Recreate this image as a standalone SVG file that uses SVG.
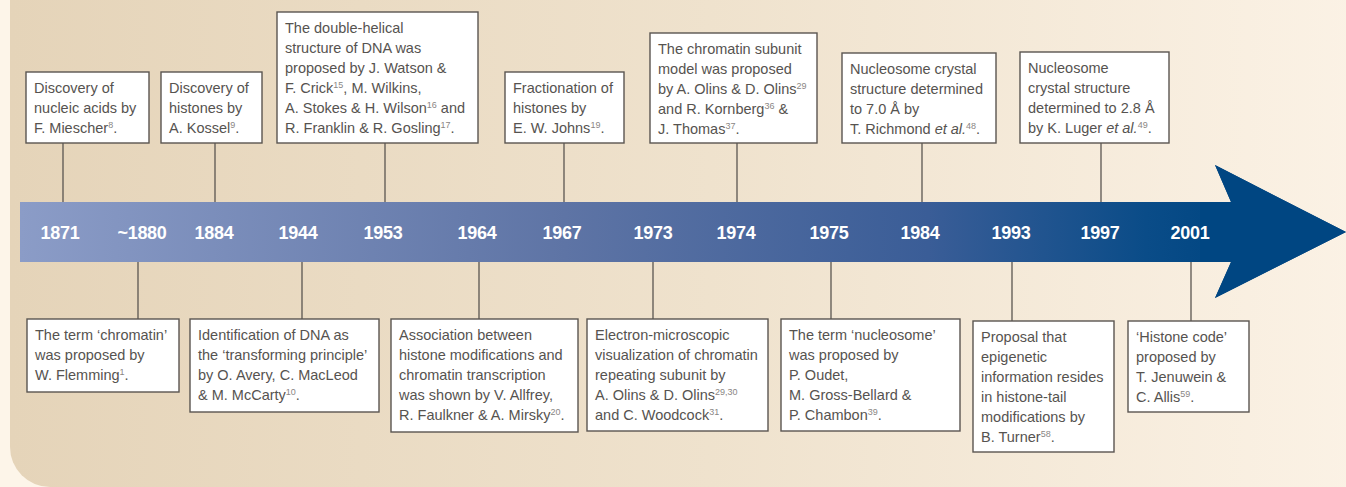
<svg xmlns="http://www.w3.org/2000/svg" width="1346" height="487" viewBox="0 0 1346 487">
<style>
.box{fill:#fff;stroke:#5a5551;stroke-width:1.4}
.t{font-family:"Liberation Sans",Arial,sans-serif;font-size:14.5px;fill:#565350}
.sup{font-size:9px;fill:#8a8684}
.yr{font-family:"Liberation Sans",Arial,sans-serif;font-size:18px;font-weight:bold;fill:#fff;text-anchor:middle;letter-spacing:-0.3px}
.ln{stroke:#5a5551;stroke-width:1.3;fill:none}
</style>
<defs>
<linearGradient id="bg" x1="0" y1="0" x2="1" y2="0">
<stop offset="0" stop-color="#e5d4b9"/>
<stop offset="0.5" stop-color="#efe2cd"/>
<stop offset="1" stop-color="#fcf3e7"/>
</linearGradient>
<linearGradient id="bar" gradientUnits="userSpaceOnUse" x1="20" y1="0" x2="1231" y2="0">
<stop offset="0" stop-color="#8b9cc7"/>
<stop offset="0.45" stop-color="#5e74a5"/>
<stop offset="0.75" stop-color="#3a5d97"/>
<stop offset="0.93" stop-color="#0a4c88"/>
<stop offset="1" stop-color="#004682"/>
</linearGradient>
</defs>
<rect x="0" y="0" width="1346" height="487" fill="#fdf5e9"/>
<rect x="10" y="-60" width="1400" height="547" rx="40" fill="url(#bg)"/>

<g id="timeline">
<path d="M20,202 H1231 L1215,165 L1346,232 L1215,298 L1231,262 H20 Z" fill="url(#bar)"/>
<path d="M1200,202 H1231 L1215,165 L1346,232 L1215,298 L1231,262 H1200 Z" fill="#004682"/>
<text class="yr" x="60" y="239">1871</text>
<text class="yr" x="142" y="239">~1880</text>
<text class="yr" x="214" y="239">1884</text>
<text class="yr" x="298" y="239">1944</text>
<text class="yr" x="383" y="239">1953</text>
<text class="yr" x="477" y="239">1964</text>
<text class="yr" x="562" y="239">1967</text>
<text class="yr" x="653" y="239">1973</text>
<text class="yr" x="736" y="239">1974</text>
<text class="yr" x="829" y="239">1975</text>
<text class="yr" x="920" y="239">1984</text>
<text class="yr" x="1011" y="239">1993</text>
<text class="yr" x="1100" y="239">1997</text>
<text class="yr" x="1190" y="239">2001</text>
</g>

<g id="connectors">
<line class="ln" x1="63" y1="143" x2="63" y2="202"/>
<line class="ln" x1="215" y1="143" x2="215" y2="202"/>
<line class="ln" x1="385" y1="143" x2="385" y2="202"/>
<line class="ln" x1="564" y1="143" x2="564" y2="202"/>
<line class="ln" x1="737" y1="143" x2="737" y2="202"/>
<line class="ln" x1="922" y1="143" x2="922" y2="202"/>
<line class="ln" x1="1101" y1="143" x2="1101" y2="202"/>
<line class="ln" x1="138" y1="262" x2="138" y2="319"/>
<line class="ln" x1="302" y1="262" x2="302" y2="319"/>
<line class="ln" x1="479" y1="262" x2="479" y2="319"/>
<line class="ln" x1="653" y1="262" x2="653" y2="319"/>
<line class="ln" x1="831" y1="262" x2="831" y2="319"/>
<line class="ln" x1="1012" y1="262" x2="1012" y2="321"/>
<line class="ln" x1="1191" y1="262" x2="1191" y2="321"/>
</g>

<g id="e1871">
<rect class="box" x="26" y="72" width="123" height="71"/>
<text class="t" x="34" y="93">Discovery of</text>
<text class="t" x="34" y="113">nucleic acids by</text>
<text class="t" x="34" y="133">F. Miescher<tspan class="sup" dy="-5">8</tspan><tspan dy="5">.</tspan></text>
</g>
<g id="e1884">
<rect class="box" x="161" y="72" width="101" height="71"/>
<text class="t" x="169" y="93">Discovery of</text>
<text class="t" x="169" y="113">histones by</text>
<text class="t" x="169" y="133">A. Kossel<tspan class="sup" dy="-5">9</tspan><tspan dy="5">.</tspan></text>
</g>
<g id="e1953">
<rect class="box" x="277" y="12" width="201" height="131"/>
<text class="t" x="285" y="33">The double-helical</text>
<text class="t" x="285" y="53">structure of DNA was</text>
<text class="t" x="285" y="73">proposed by J. Watson &amp;</text>
<text class="t" x="285" y="93">F. Crick<tspan class="sup" dy="-5">15</tspan><tspan dy="5">, M. Wilkins,</tspan></text>
<text class="t" x="285" y="113">A. Stokes &amp; H. Wilson<tspan class="sup" dy="-5">16</tspan><tspan dy="5"> and</tspan></text>
<text class="t" x="285" y="133">R. Franklin &amp; R. Gosling<tspan class="sup" dy="-5">17</tspan><tspan dy="5">.</tspan></text>
</g>
<g id="e1967">
<rect class="box" x="505" y="72" width="119" height="71"/>
<text class="t" x="513" y="93">Fractionation of</text>
<text class="t" x="513" y="113">histones by</text>
<text class="t" x="513" y="133">E. W. Johns<tspan class="sup" dy="-5">19</tspan><tspan dy="5">.</tspan></text>
</g>
<g id="e1974">
<rect class="box" x="650" y="33" width="167" height="110"/>
<text class="t" x="658" y="54">The chromatin subunit</text>
<text class="t" x="658" y="74">model was proposed</text>
<text class="t" x="658" y="94">by A. Olins &amp; D. Olins<tspan class="sup" dy="-5">29</tspan></text>
<text class="t" x="658" y="114">and R. Kornberg<tspan class="sup" dy="-5">36</tspan><tspan dy="5"> &amp;</tspan></text>
<text class="t" x="658" y="134">J. Thomas<tspan class="sup" dy="-5">37</tspan><tspan dy="5">.</tspan></text>
</g>
<g id="e1984">
<rect class="box" x="842" y="53" width="154" height="90"/>
<text class="t" x="850" y="74">Nucleosome crystal</text>
<text class="t" x="850" y="94">structure determined</text>
<text class="t" x="850" y="114">to 7.0 Å by</text>
<text class="t" x="850" y="134">T. Richmond <tspan font-style="italic">et al.</tspan><tspan class="sup" dy="-5">48</tspan><tspan dy="5">.</tspan></text>
</g>
<g id="e1997">
<rect class="box" x="1020" y="52" width="149" height="91"/>
<text class="t" x="1028" y="73">Nucleosome</text>
<text class="t" x="1028" y="93">crystal structure</text>
<text class="t" x="1028" y="113">determined to 2.8 Å</text>
<text class="t" x="1028" y="133">by K. Luger <tspan font-style="italic">et al.</tspan><tspan class="sup" dy="-5">49</tspan><tspan dy="5">.</tspan></text>
</g>

<g id="e1880">
<rect class="box" x="27" y="319" width="152" height="73"/>
<text class="t" x="35" y="340">The term ‘chromatin’</text>
<text class="t" x="35" y="360">was proposed by</text>
<text class="t" x="35" y="380">W. Flemming<tspan class="sup" dy="-5">1</tspan><tspan dy="5">.</tspan></text>
</g>
<g id="e1944">
<rect class="box" x="190" y="319" width="189" height="93"/>
<text class="t" x="198" y="340">Identification of DNA as</text>
<text class="t" x="198" y="360">the ‘transforming principle’</text>
<text class="t" x="198" y="380">by O. Avery, C. MacLeod</text>
<text class="t" x="198" y="400">&amp; M. McCarty<tspan class="sup" dy="-5">10</tspan><tspan dy="5">.</tspan></text>
</g>
<g id="e1964">
<rect class="box" x="391" y="319" width="187" height="113"/>
<text class="t" x="399" y="340">Association between</text>
<text class="t" x="399" y="360">histone modifications and</text>
<text class="t" x="399" y="380">chromatin transcription</text>
<text class="t" x="399" y="400">was shown by V. Allfrey,</text>
<text class="t" x="399" y="420">R. Faulkner &amp; A. Mirsky<tspan class="sup" dy="-5">20</tspan><tspan dy="5">.</tspan></text>
</g>
<g id="e1973">
<rect class="box" x="587" y="319" width="181" height="112"/>
<text class="t" x="595" y="340">Electron-microscopic</text>
<text class="t" x="595" y="360">visualization of chromatin</text>
<text class="t" x="595" y="380">repeating subunit by</text>
<text class="t" x="595" y="400">A. Olins &amp; D. Olins<tspan class="sup" dy="-5">29,30</tspan></text>
<text class="t" x="595" y="420">and C. Woodcock<tspan class="sup" dy="-5">31</tspan><tspan dy="5">.</tspan></text>
</g>
<g id="e1975">
<rect class="box" x="781" y="319" width="179" height="112"/>
<text class="t" x="789" y="340">The term ‘nucleosome’</text>
<text class="t" x="789" y="360">was proposed by</text>
<text class="t" x="789" y="380">P. Oudet,</text>
<text class="t" x="789" y="400">M. Gross-Bellard &amp;</text>
<text class="t" x="789" y="420">P. Chambon<tspan class="sup" dy="-5">39</tspan><tspan dy="5">.</tspan></text>
</g>
<g id="e1993">
<rect class="box" x="973" y="321" width="141" height="131"/>
<text class="t" x="981" y="342">Proposal that</text>
<text class="t" x="981" y="362">epigenetic</text>
<text class="t" x="981" y="382">information resides</text>
<text class="t" x="981" y="402">in histone-tail</text>
<text class="t" x="981" y="422">modifications by</text>
<text class="t" x="981" y="442">B. Turner<tspan class="sup" dy="-5">58</tspan><tspan dy="5">.</tspan></text>
</g>
<g id="e2001">
<rect class="box" x="1128" y="321" width="121" height="91"/>
<text class="t" x="1136" y="342">‘Histone code’</text>
<text class="t" x="1136" y="362">proposed by</text>
<text class="t" x="1136" y="382">T. Jenuwein &amp;</text>
<text class="t" x="1136" y="402">C. Allis<tspan class="sup" dy="-5">59</tspan><tspan dy="5">.</tspan></text>
</g>
</svg>
